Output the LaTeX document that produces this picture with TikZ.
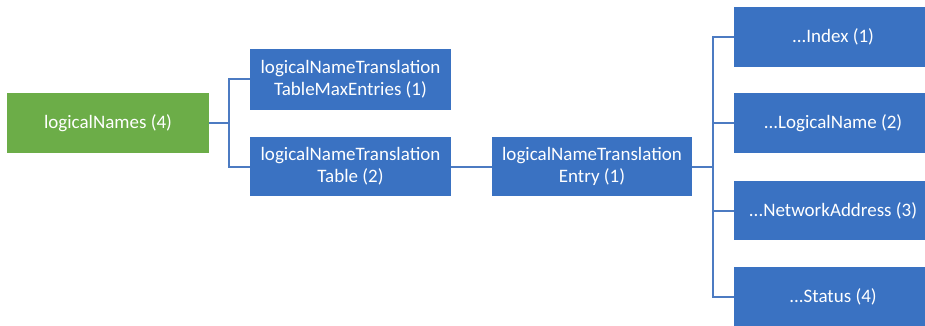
\documentclass[tikz,border=0pt]{standalone}
\usepackage{fontspec}
\setmainfont{Carlito}
\definecolor{boxblue}{HTML}{3A72C2}
\definecolor{boxgreen}{HTML}{6CAD48}
\definecolor{linkblue}{HTML}{4C7BC2}
\begin{document}
\begin{tikzpicture}[x=1pt,y=-1pt,
  attr/.style={fill=boxblue, text=white, align=center, inner sep=0pt,
    minimum width=201pt, minimum height=60pt, font=\fontsize{19}{22}\selectfont},
  link/.style={draw=linkblue, line width=2pt}]
\clip (0,0) rectangle (925,326);
\node[attr, fill=boxgreen, minimum width=202pt] (names) at (108,123) {logicalNames (4)};
\node[attr, minimum height=61pt] (tmax) at (350.5,79.5) {logicalNameTranslation\\TableMaxEntries (1)};
\node[attr, minimum height=59pt] (table) at (350.5,166.5) {logicalNameTranslation\\Table (2)};
\node[attr, minimum width=200pt, minimum height=59pt] (entry) at (592,166.5) {logicalNameTranslation\\Entry (1)};
\node[attr, minimum width=198pt] (index) at (833,37) {...Index (1)};
\node[attr, minimum width=198pt] (lname) at (833,123) {...LogicalName (2)};
\node[attr, minimum width=198pt, minimum height=59pt] (naddr) at (833,210.5) {...NetworkAddress (3)};
\node[attr, minimum width=198pt] (status) at (833,297) {...Status (4)};
% branch points
\coordinate (jn) at (229,123);
\coordinate (je) at (713,166.5);
\draw[link] (names.east) -- (jn);
\draw[link] (tmax.west) -| (jn) |- (table.west);
\draw[link] (table.east) -- (entry.west);
\draw[link] (entry.east) -- (je);
\draw[link] (index.west) -| (je) |- (status.west);
\draw[link] (lname.west) -- (lname.west -| je);
\draw[link] (naddr.west) -- (naddr.west -| je);
\end{tikzpicture}
\end{document}
